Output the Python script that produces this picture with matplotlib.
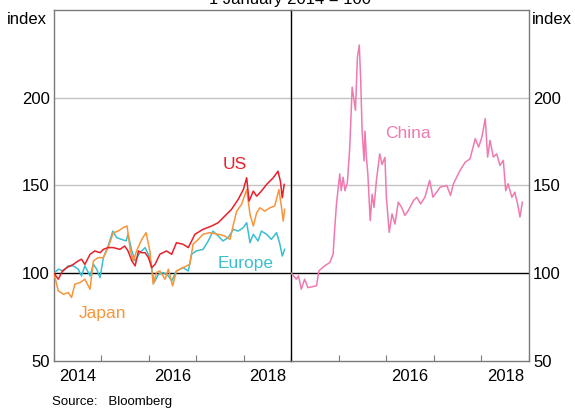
import matplotlib.pyplot as plt

plt.rcParams['font.family'] = ['Liberation Sans', 'DejaVu Sans']

# Share price indices, 1 January 2014 = 100 (time in fractional years)
us_t = [2014.0, 2014.09, 2014.18, 2014.27, 2014.41, 2014.51, 2014.58, 2014.65, 2014.76, 2014.86,
        2014.97, 2015.04, 2015.14, 2015.25, 2015.39, 2015.49, 2015.56, 2015.64, 2015.71, 2015.78,
        2015.85, 2015.92, 2015.99, 2016.06, 2016.13, 2016.23, 2016.37, 2016.48, 2016.58, 2016.72,
        2016.83, 2016.97, 2017.14, 2017.32, 2017.46, 2017.6, 2017.74, 2017.88, 2017.99, 2018.06,
        2018.11, 2018.2, 2018.27, 2018.37, 2018.48, 2018.62, 2018.72, 2018.77, 2018.81, 2018.85]
us_v = [100, 96.6, 101.3, 103.2, 105.1, 107, 108, 105, 110.8, 112.7,
        111.7, 113.6, 114.6, 114.6, 113.6, 115.5, 112.7, 107, 104.2, 112.7,
        111.7, 111.7, 108.9, 103.2, 105.1, 110.8, 112.7, 110.8, 117.4, 116.5,
        114.6, 122.2, 125, 126.9, 128.8, 132.6, 136.4, 142, 147.7, 154.4,
        141.1, 146.8, 143.9, 146.8, 150.6, 154.4, 158.1, 152.5, 143, 150.6]

japan_t = [2014.0, 2014.09, 2014.2, 2014.3, 2014.37, 2014.44, 2014.55, 2014.65, 2014.76, 2014.83,
           2014.93, 2015.04, 2015.14, 2015.25, 2015.35, 2015.46, 2015.54, 2015.61, 2015.67, 2015.74,
           2015.85, 2015.94, 2016.02, 2016.09, 2016.16, 2016.23, 2016.34, 2016.41, 2016.5, 2016.58,
           2016.72, 2016.86, 2016.93, 2017.04, 2017.14, 2017.28, 2017.46, 2017.6, 2017.71, 2017.78,
           2017.85, 2017.95, 2018.06, 2018.13, 2018.2, 2018.27, 2018.34, 2018.44, 2018.55, 2018.65,
           2018.74, 2018.79, 2018.83, 2018.86]
japan_v = [100, 90, 88, 89, 86.2, 93.8, 94.7, 96.6, 90.9, 107,
           108.9, 108.9, 114.6, 123.1, 124, 126, 126.9, 112.7, 107, 112.7,
           119.3, 123.1, 112.7, 93.8, 100.4, 101.3, 96.6, 102.3, 92.8, 101.3,
           103.2, 105.1, 116.5, 119.3, 122.2, 123.1, 122.2, 121.2, 119.3, 127.8,
           135.4, 139.2, 147.7, 133.5, 126.9, 134.5, 137.3, 135.4, 137.3, 138.3,
           147.7, 138.3, 129.7, 136.4]

europe_t = [2014.0, 2014.09, 2014.2, 2014.3, 2014.41, 2014.51, 2014.58, 2014.65, 2014.76, 2014.83,
            2014.9, 2014.97, 2015.04, 2015.14, 2015.24, 2015.32, 2015.42, 2015.52, 2015.56, 2015.64,
            2015.71, 2015.81, 2015.92, 2016.02, 2016.11, 2016.2, 2016.3, 2016.41, 2016.48, 2016.58,
            2016.72, 2016.83, 2016.9, 2017.0, 2017.14, 2017.25, 2017.35, 2017.46, 2017.56, 2017.67,
            2017.78, 2017.88, 2017.99, 2018.06, 2018.13, 2018.2, 2018.3, 2018.37, 2018.48, 2018.58,
            2018.69, 2018.76, 2018.81, 2018.86]
europe_v = [100, 102.3, 101.3, 104.2, 104.2, 102.3, 98.5, 104.2, 98.5, 105.1,
            102.3, 97.5, 108.9, 115.5, 124, 120.3, 119.3, 118.4, 122.2, 112.7,
            107, 111.7, 114.6, 108.9, 94.7, 99.4, 100.4, 98.5, 95.6, 101.3,
            103.2, 101.3, 110.8, 112.7, 113.6, 118.4, 124, 121.2, 118.4, 120.3,
            125, 124, 126, 128.8, 117.4, 122.2, 118.4, 124, 122.2, 119.3,
            123.1, 116.5, 109.8, 113.6]

china_t = [2014.0, 2014.105, 2014.15, 2014.21, 2014.28, 2014.35, 2014.53, 2014.58, 2014.7, 2014.81,
           2014.88, 2014.91, 2014.95, 2015.02, 2015.05, 2015.09, 2015.13, 2015.18, 2015.23, 2015.28,
           2015.31, 2015.35, 2015.39, 2015.43, 2015.46, 2015.49, 2015.53, 2015.55, 2015.58, 2015.61,
           2015.66, 2015.7, 2015.74, 2015.79, 2015.86, 2015.91, 2015.97, 2016.0, 2016.04, 2016.06,
           2016.12, 2016.18, 2016.25, 2016.32, 2016.39, 2016.46, 2016.57, 2016.64, 2016.72, 2016.81,
           2016.91, 2016.98, 2017.13, 2017.27, 2017.35, 2017.41, 2017.55, 2017.66, 2017.76, 2017.87,
           2017.94, 2018.01, 2018.08, 2018.13, 2018.18, 2018.25, 2018.32, 2018.39, 2018.46, 2018.51,
           2018.56, 2018.64, 2018.7, 2018.76, 2018.81, 2018.86]
china_v = [100, 96.6, 98.5, 90.9, 96.6, 91.8, 92.8, 101.3, 104.2, 106.1,
           110.9, 124.2, 139.4, 156.6, 147.1, 154.7, 147, 151.8, 171.8, 206,
           200.4, 192.8, 223, 230, 210, 181, 164, 181, 166, 156.6,
           130, 145, 137.5, 152.8, 168, 162, 166, 143.3, 130, 123.3,
           133.8, 128, 140.5, 137.6, 132.9, 135.7, 141.4, 143.3, 139.5, 143.3,
           152.9, 143.3, 149, 150, 144.3, 151, 158.6, 163.3, 165.2, 176.7,
           171.9, 177.6, 188.1, 166.2, 175.7, 166.2, 168, 161.4, 164.3, 147,
           151, 143.3, 146.2, 139.5, 132, 140.5]

year_ticks = [2014, 2015, 2016, 2017, 2018, 2019]
left_labels = ['2014', '2016', '2018']
right_labels = ['2016', '2018']
y_ticks = [50, 100, 150, 200]

red = '#e8202a'
orange = '#f7953b'
teal = '#3bbfcf'
pink = '#f07ab0'
frame = '#7a7a7a'

fig = plt.figure(figsize=(5.75, 4.13), dpi=100)
ax1 = fig.add_axes([0.0939, 0.1259, 0.4127, 0.85])
ax2 = fig.add_axes([0.5066, 0.1259, 0.4134, 0.85])

for ax in (ax1, ax2):
    ax.set_xlim(2014, 2019)
    ax.set_ylim(50, 250)
    for y in (150, 200):
        ax.axhline(y, color='#c4c4c4', lw=1.0, zorder=1)
    ax.axhline(100, color='black', lw=1.0, zorder=1)
    ax.set_xticks(year_ticks)
    ax.set_xticklabels([])
    ax.tick_params(axis='x', which='major', direction='in', length=4, color=frame, width=0.8)
    ax.tick_params(axis='x', which='minor', length=0, labelsize=12, pad=6)
    ax.set_yticks(y_ticks)
    ax.tick_params(axis='y', length=0, labelsize=12, pad=3)
    for s in ax.spines.values():
        s.set_color(frame)
        s.set_linewidth(1.0)

ax1.plot(europe_t, europe_v, color=teal, lw=1.1, zorder=3)
ax1.plot(japan_t, japan_v, color=orange, lw=1.1, zorder=4)
ax1.plot(us_t, us_v, color=red, lw=1.1, zorder=5)
ax1.set_xticks([2014.5, 2016.5, 2018.5], minor=True)
ax1.set_xticklabels(left_labels, minor=True)
ax1.spines['right'].set_visible(False)
ax1.text(2017.81, 162, 'US', color=red, fontsize=12.5, ha='center', va='center')
ax1.text(2015.03, 77, 'Japan', color=orange, fontsize=12.5, ha='center', va='center')
ax1.text(2018.04, 105.7, 'Europe', color=teal, fontsize=12.5, ha='center', va='center')

ax2.plot(china_t, china_v, color=pink, lw=1.1, zorder=3)
ax2.set_xticks([2016.5, 2018.5], minor=True)
ax2.set_xticklabels(right_labels, minor=True)
ax2.yaxis.tick_right()
ax2.spines['left'].set_color('black')
ax2.text(2016.45, 179.5, 'China', color=pink, fontsize=12.5, ha='center', va='center')

fig.text(0.082, 0.952, 'index', fontsize=12, ha='right', va='center')
fig.text(0.925, 0.952, 'index', fontsize=12, ha='left', va='center')
fig.text(0.505, 0.99, '1 January 2014 = 100', fontsize=12, ha='center', va='baseline')
fig.text(0.09, 0.02, 'Source:   Bloomberg', fontsize=9.5, ha='left', va='baseline')

fig.savefig('out.png', dpi=100)
